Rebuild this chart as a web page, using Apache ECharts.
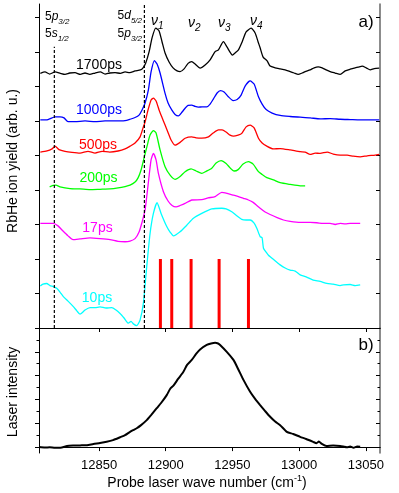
<!DOCTYPE html>
<html>
<head>
<meta charset="utf-8">
<script src="https://cdn.jsdelivr.net/npm/echarts@6/dist/echarts.min.js"></script>
<style>
html, body { margin: 0; padding: 0; background: #fff; }
#myCharts { width: 399px; height: 493px; }
</style>
</head>
<body>
<div id="myCharts"></div>
<script>
// tick positions
const xTicks = [12850, 12900, 12950, 13000, 13050];
const yTicksA = [0, 1, 2, 3, 4, 5, 6, 7, 8, 9];
const yTicksB = [0, 1, 2, 3, 4];
const yMinorB = [0.5, 1.5, 2.5, 3.5, 4.5];

// atomic lines (dashed) and vibrational lines (red sticks)
const levelLines = [12816.5, 12884];
const levelTops = [8.15, 9.39];
const vibLines = [12896, 12904.5, 12919, 12940, 12962];
const vibHeight = 2;

// panel a) spectra, [wave number, yield]
const trace1700 = [[12806,7.38],[12809.5,7.42],[12813,7.36],[12817,7.42],[12821,7.38],[12824.5,7.35],[12828,7.39],[12832,7.40],[12836,7.35],[12839.5,7.39],[12843,7.35],[12847,7.39],[12851,7.42],[12854.5,7.36],[12858,7.39],[12862,7.40],[12866,7.38],[12869.5,7.42],[12873,7.40],[12877,7.45],[12881,7.48],[12883,7.54],[12885,7.68],[12887.5,8.00],[12889.75,8.41],[12892.5,8.69],[12895,8.61],[12897.25,8.29],[12899.5,7.97],[12902.5,7.71],[12905.5,7.54],[12908.5,7.45],[12910.75,7.43],[12913.75,7.51],[12916.75,7.67],[12919.5,7.72],[12922,7.65],[12925.75,7.53],[12929.5,7.62],[12933.25,7.77],[12937,8.01],[12939.5,8.06],[12943.25,8.30],[12946,8.14],[12950,7.91],[12952,7.97],[12954.5,8.06],[12957.25,8.29],[12960.25,8.58],[12964,8.69],[12967,8.55],[12969.25,8.29],[12970.75,8.12],[12973,7.85],[12976,7.74],[12978.25,7.59],[12982,7.54],[12985.75,7.51],[12989.5,7.48],[12993.25,7.43],[12996.25,7.39],[12999.25,7.35],[13002.25,7.39],[13004.5,7.43],[13008.25,7.48],[13011.25,7.54],[13014.25,7.57],[13017.25,7.54],[13020.25,7.48],[13023.25,7.43],[13027,7.39],[13030.75,7.35],[13034.5,7.45],[13038.25,7.50],[13042,7.54],[13044.25,7.56],[13047.25,7.59],[13050.25,7.54],[13053.25,7.48],[13056.25,7.52],[13060,7.53]];
const trace1000 = [[12806,6.03],[12811.75,6.04],[12817,6.12],[12820.75,6.12],[12823.75,6.09],[12826.75,5.98],[12832,5.98],[12839.5,6.00],[12847,5.98],[12854.5,6.00],[12862,6.00],[12869.5,6.01],[12873.25,6.05],[12877,6.10],[12880,6.17],[12882.25,6.32],[12884.5,6.52],[12887,6.90],[12889,7.42],[12891.5,7.75],[12893.5,7.65],[12895.75,7.39],[12899.5,6.80],[12901.75,6.52],[12904.5,6.32],[12907,6.19],[12909.5,6.15],[12912.25,6.26],[12914.5,6.37],[12916.75,6.45],[12919.5,6.46],[12922,6.42],[12924.5,6.40],[12927.25,6.41],[12930.75,6.41],[12933.25,6.49],[12935.75,6.64],[12938.5,6.81],[12941,6.88],[12943.75,6.84],[12946.75,6.71],[12950.5,6.59],[12953.5,6.62],[12956.5,6.75],[12959.5,7.01],[12963.25,7.16],[12966.25,7.07],[12969.5,6.70],[12972.25,6.49],[12975.25,6.33],[12979.75,6.23],[12985.75,6.16],[12993.25,6.13],[13000.75,6.11],[13008.25,6.09],[13015.75,6.06],[13023.25,6.07],[13030.75,6.05],[13038.25,6.04],[13045.75,6.03],[13053.25,6.03],[13060,6.03]];
const trace500 = [[12806,5.10],[12811,5.13],[12814.75,5.19],[12817,5.27],[12820,5.17],[12824.5,5.12],[12829.75,5.09],[12835.75,5.07],[12841.75,5.12],[12847,5.07],[12852.25,5.12],[12858,5.10],[12864.25,5.13],[12869.5,5.19],[12873.25,5.27],[12877,5.36],[12880.75,5.54],[12883,5.80],[12884.5,5.97],[12886.75,6.32],[12889,6.61],[12890.75,6.66],[12892.75,6.58],[12895,6.32],[12897,6.12],[12899.5,5.88],[12902,5.64],[12904,5.45],[12907,5.30],[12910.75,5.38],[12914.5,5.50],[12919.5,5.54],[12922.75,5.51],[12927,5.50],[12932,5.54],[12935.5,5.65],[12939.5,5.74],[12942.25,5.74],[12945.25,5.68],[12948.25,5.59],[12950.75,5.56],[12954.25,5.59],[12957,5.64],[12960.25,5.83],[12963.25,5.88],[12966.25,5.80],[12969.5,5.50],[12972.25,5.36],[12975.75,5.27],[12980.5,5.19],[12985.75,5.20],[12993.25,5.16],[13000.75,5.11],[13004.5,5.10],[13008.25,5.03],[13012,5.07],[13015.75,5.06],[13021,5.10],[13025.5,5.04],[13030.75,5.01],[13036,5.01],[13040.5,4.98],[13045.75,4.96],[13051,4.99],[13057,5.01],[13060,5.03]];
const trace200 = [[12813,4.09],[12815.5,4.13],[12817.75,4.14],[12820.75,4.09],[12828.25,4.04],[12835.75,4.03],[12843.25,4.01],[12850.75,4.02],[12858.25,4.03],[12864.25,4.06],[12869.5,4.10],[12873.25,4.14],[12877,4.23],[12879.25,4.35],[12881.5,4.58],[12883.75,4.93],[12886,5.27],[12888.25,5.59],[12890.75,5.72],[12892.75,5.65],[12895.75,5.16],[12899.5,4.67],[12903.25,4.43],[12907,4.31],[12910.75,4.39],[12914.5,4.53],[12919,4.61],[12922.75,4.55],[12927,4.48],[12930.25,4.54],[12934.5,4.63],[12937.75,4.78],[12941.5,4.85],[12945.25,4.77],[12948.25,4.64],[12951.25,4.55],[12954.25,4.59],[12958,4.75],[12962,4.82],[12965.5,4.75],[12969.5,4.53],[12972.25,4.45],[12975.75,4.36],[12980.75,4.29],[12985.75,4.21],[12993.25,4.16],[13000.75,4.12],[13004.5,4.12]];
const trace17 = [[12806,3.03],[12811,3.03],[12815.5,3.03],[12819.25,2.96],[12823,2.81],[12826.75,2.67],[12830.5,2.56],[12835.75,2.58],[12843.25,2.61],[12850.75,2.59],[12858.25,2.56],[12864.25,2.51],[12869.5,2.50],[12873.25,2.52],[12877,2.59],[12880,2.78],[12882.25,3.07],[12884.5,3.42],[12886.75,4.14],[12889,4.87],[12890.75,5.06],[12892.75,4.87],[12894.5,4.48],[12898.25,3.95],[12901.75,3.68],[12904.75,3.55],[12907.75,3.51],[12910.75,3.55],[12914.5,3.61],[12919.5,3.71],[12927,3.72],[12931.75,3.77],[12937,3.81],[12942,3.93],[12946,3.90],[12950.75,3.85],[12954.5,3.81],[12958.25,3.76],[12962,3.71],[12965.5,3.64],[12970.75,3.47],[12974.5,3.36],[12978.25,3.29],[12983.5,3.20],[12988.25,3.13],[12993.25,3.09],[13000.75,3.06],[13008.25,3.06],[13013.25,3.05],[13018,3.03],[13023.25,3.03],[13027,3.00],[13030.75,3.03],[13034.5,3.02],[13038.25,3.03],[13045.75,3.03]];
const trace10 = [[12806,1.22],[12808,1.27],[12810.75,1.29],[12813.25,1.23],[12815.75,1.20],[12818.25,1.15],[12820.75,1.04],[12823.25,0.91],[12826.75,0.78],[12830.75,0.62],[12833.5,0.49],[12835.75,0.40],[12839.5,0.52],[12843.25,0.59],[12847,0.59],[12850.75,0.61],[12855.25,0.58],[12859.5,0.59],[12862.75,0.52],[12865.75,0.42],[12868.75,0.29],[12872,0.14],[12874,0.19],[12875.75,0.12],[12878.25,0.07],[12880.75,0.23],[12883.25,0.72],[12885.75,1.78],[12888.25,2.74],[12890.75,3.32],[12893.5,3.63],[12896.5,3.32],[12900.75,2.94],[12903.25,2.78],[12905.75,2.67],[12910.75,2.79],[12915.75,2.98],[12920.75,3.18],[12927,3.32],[12934.5,3.45],[12942,3.47],[12945.25,3.45],[12949.5,3.37],[12952.75,3.27],[12957,3.15],[12960.25,3.13],[12963.25,3.13],[12966.25,3.04],[12968.25,2.89],[12970.75,2.65],[12972.25,2.61],[12973.25,2.31],[12975.25,2.20],[12977,2.11],[12981.25,1.97],[12985.75,1.83],[12989.5,1.74],[12993.25,1.68],[12997,1.65],[13000.75,1.54],[13005.25,1.48],[13010.5,1.39],[13015.75,1.35],[13020.75,1.29],[13025.5,1.27],[13030.75,1.23],[13033.25,1.25],[13038.25,1.26],[13042,1.23],[13045.75,1.25]];

// panel b) laser spectrum
const laser = [[12805,0],[12809.5,-0.02],[12813,-0.01],[12817,-0.03],[12821,-0.03],[12826,0.04],[12830.5,0.06],[12835.75,0.07],[12841,0.08],[12845.75,0.13],[12850.75,0.17],[12855.75,0.22],[12860.5,0.29],[12865.75,0.41],[12869.5,0.50],[12873.25,0.64],[12875.5,0.71],[12878.25,0.79],[12881.5,0.92],[12885.75,1.13],[12889,1.34],[12893.25,1.63],[12896.5,1.85],[12900.75,2.18],[12903.25,2.44],[12905.75,2.58],[12909.25,2.86],[12913.25,3.16],[12916,3.45],[12919.5,3.66],[12922.75,3.91],[12925.75,4.10],[12930.75,4.29],[12934,4.35],[12937,4.38],[12939.25,4.35],[12940.75,4.29],[12945.75,4.00],[12950.75,3.66],[12954.25,3.28],[12958.25,2.82],[12963.25,2.32],[12967,2.02],[12970.75,1.76],[12974.5,1.51],[12978.25,1.27],[12982,1.07],[12985.75,0.92],[12990.75,0.64],[12995.5,0.55],[13000.75,0.43],[13005.25,0.34],[13010.5,0.22],[13013,0.16],[13014.75,0.23],[13017,0.13],[13020.5,0.04],[13025.5,0.06],[13030.75,0.04],[13033,0.02],[13035.75,-0.01],[13038.25,0.02],[13040.75,-0.03],[13043.5,0.02],[13045.75,0.01]];

const FONT = "'Liberation Sans', Arial, sans-serif";
const myCharts = echarts.init(document.getElementById("myCharts"));

function xAxisDef(grid, pos, opts) {
  return Object.assign({
    type: "value",
    gridIndex: grid,
    position: pos,
    min: 12805,
    max: 13060.6,
    axisLine: { show: true, lineStyle: { color: "#000", width: 1 } },
    axisTick: { show: true, customValues: xTicks, inside: false, length: 4, lineStyle: { color: "#000" } },
    axisLabel: { show: false },
    splitLine: { show: false },
  }, opts);
}

function yAxisDef(grid, pos, min, max, ticks, inside, len, opts) {
  return Object.assign({
    type: "value",
    gridIndex: grid,
    position: pos,
    min: min,
    max: max,
    axisLine: { show: true, lineStyle: { color: pos === "right" ? "#666" : "#000", width: pos === "right" ? 1.5 : 1 } },
    axisTick: { show: true, customValues: ticks, inside: inside, length: len, lineStyle: { color: "#000" } },
    axisLabel: { show: false },
    splitLine: { show: false },
  }, opts);
}

function trace(data, color) {
  return {
    type: "line",
    xAxisIndex: 0,
    yAxisIndex: 0,
    data: data,
    showSymbol: false,
    smooth: 0.2,
    lineStyle: { color: color, width: 1.3 },
    itemStyle: { color: color },
  };
}

function txt(text, x, y, color, size, extra) {
  return {
    type: "text",
    x: x,
    y: y,
    style: Object.assign({
      text: text,
      fill: color,
      fontSize: size,
      fontFamily: FONT,
      align: "center",
      textAlign: "center",
      verticalAlign: "middle",
      textVerticalAlign: "middle",
    }, extra || {}),
  };
}

// subscript helper for rich text
function richSub(size) {
  return {
    n: { fontSize: size, fontFamily: FONT, fill: "#000", lineHeight: size + 6 },
    i: { fontSize: size, fontFamily: FONT, fontStyle: "italic", fill: "#000", lineHeight: size + 6 },
    s: { fontSize: size - 4, fontFamily: FONT, fontStyle: "italic", fill: "#000", lineHeight: size + 6, verticalAlign: "bottom" },
  };
}

function levelTxt(text, x, y, align) {
  return {
    type: "text",
    x: x,
    y: y,
    style: {
      text: text,
      rich: richSub(12),
      fontSize: 12,
      fontFamily: FONT,
      fill: "#000",
      align: align,
      textAlign: align,
      verticalAlign: "middle",
      textVerticalAlign: "middle",
    },
  };
}

function nuTxt(k, x, y) {
  return {
    type: "text",
    x: x,
    y: y,
    style: {
      text: "{i|ν}{s|" + k + "}",
      rich: richSub(14),
      fontSize: 14,
      fontFamily: FONT,
      fill: "#000",
      align: "left",
      textAlign: "left",
      verticalAlign: "middle",
      textVerticalAlign: "middle",
    },
  };
}

let option = {
  animation: false,
  backgroundColor: "#fff",
  grid: [
    { left: 39, top: 4, width: 341, height: 324 },
    { left: 39, top: 328, width: 341, height: 125 },
  ],
  xAxis: [
    xAxisDef(0, "bottom", {}),
    xAxisDef(0, "top", { axisTick: { show: true, customValues: xTicks, inside: true, length: 4, lineStyle: { color: "#000" } } }),
    xAxisDef(1, "bottom", {
      axisLabel: {
        show: true,
        customValues: xTicks,
        margin: 6,
        color: "#000",
        fontSize: 13,
        fontFamily: FONT,
        formatter: (v) => String(v),
      },
    }),
    xAxisDef(1, "top", { axisTick: { show: true, customValues: xTicks, inside: true, length: 4, lineStyle: { color: "#000" } } }),
  ],
  yAxis: [
    yAxisDef(0, "left", 0, 9.39, yTicksA, false, 4),
    yAxisDef(0, "right", 0, 9.39, yTicksA, true, 4),
    yAxisDef(1, "left", -0.25, 5, yTicksB, false, 4),
    yAxisDef(1, "left", -0.25, 5, yMinorB, false, 2.5, { axisLine: { show: false } }),
    yAxisDef(1, "right", -0.25, 5, yTicksB, true, 4),
    yAxisDef(1, "right", -0.25, 5, yMinorB, true, 2.5, { axisLine: { show: false } }),
  ],
  series: [
    trace(trace1700, "#000000"),
    trace(trace1000, "#0000ff"),
    trace(trace500, "#ff0000"),
    trace(trace200, "#00ff00"),
    trace(trace17, "#ff00ff"),
    trace(trace10, "#00ffff"),
    ...levelLines.map((v, i) => ({
      type: "line",
      xAxisIndex: 0,
      yAxisIndex: 0,
      data: [[v, 0], [v, levelTops[i]]],
      showSymbol: false,
      lineStyle: { color: "#000", width: 1.2, type: [3, 2] },
    })),
    {
      type: "custom",
      xAxisIndex: 0,
      yAxisIndex: 0,
      data: vibLines.map((v) => [v, vibHeight]),
      renderItem: function (params, api) {
        const p0 = api.coord([api.value(0), 0]);
        const p1 = api.coord([api.value(0), api.value(1)]);
        return {
          type: "line",
          shape: { x1: p0[0], y1: p0[1], x2: p1[0], y2: p1[1] },
          style: { stroke: "#ff0000", lineWidth: 3 },
        };
      },
    },
    {
      type: "line",
      xAxisIndex: 2,
      yAxisIndex: 2,
      data: laser,
      showSymbol: false,
      smooth: 0.2,
      lineStyle: { color: "#000", width: 2 },
    },
  ],
  graphic: [
    txt("1700ps", 99, 65, "#000000", 14),
    txt("1000ps", 99, 110, "#0000ff", 14),
    txt("500ps", 98, 145, "#ff0000", 14),
    txt("200ps", 98.5, 178, "#00ff00", 14),
    txt("17ps", 97.5, 228, "#ff00ff", 14),
    txt("10ps", 97, 298, "#00ffff", 14),
    txt("a)", 366, 22, "#000", 17),
    txt("b)", 366, 345, "#000", 17),
    txt("RbHe ion yield (arb. u.)", 13, 161, "#000", 14, {}),
    txt("Laser intensity", 13, 392, "#000", 14, {}),
    {
      type: "text",
      x: 207,
      y: 483,
      style: {
        text: "Probe laser wave number (cm{sup|-1})",
        rich: {
          sup: { fontSize: 9, fontFamily: FONT, fill: "#000", lineHeight: 18, verticalAlign: "top" },
        },
        fontSize: 14,
        fontFamily: FONT,
        lineHeight: 18,
        fill: "#000",
        align: "center",
        textAlign: "center",
        verticalAlign: "middle",
        textVerticalAlign: "middle",
      },
    },
    levelTxt("{n|5}{i|p}{s|3/2}", 45, 17, "left"),
    levelTxt("{n|5}{i|s}{s|1/2}", 45, 34, "left"),
    levelTxt("{n|5}{i|d}{s|5/2}", 142, 16, "right"),
    levelTxt("{n|5}{i|p}{s|3/2}", 142, 34, "right"),
    nuTxt("1", 151, 21),
    nuTxt("2", 188, 23),
    nuTxt("3", 218, 23),
    nuTxt("4", 250, 21),
  ],
};

// rotate the y axis names
option.graphic[8].rotation = Math.PI / 2;
option.graphic[9].rotation = Math.PI / 2;

myCharts.setOption(option);
</script>
</body>
</html>
